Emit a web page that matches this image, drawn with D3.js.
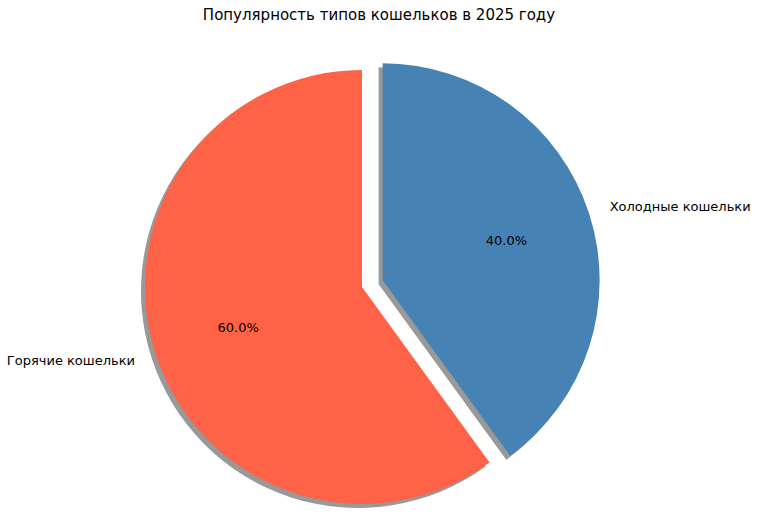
<!DOCTYPE html>
<html><head><meta charset="utf-8">
<script src="https://cdn.jsdelivr.net/npm/d3@7"></script>
<style>body{margin:0;background:#fff}text{font-family:"DejaVu Sans",sans-serif}</style>
</head><body>
<svg id="c" width="758" height="532"></svg>
<script>
var labels = ['Горячие кошельки', 'Холодные кошельки'];
var values = [60, 40];
var colors = ['#ff6347', '#4682b4'];
var explode = [0, 0.1];

var svg = d3.select('#c');
var cx = 362, cy = 287, r = 217;

svg.append('text').attr('x', 379).attr('y', 20).attr('text-anchor', 'middle')
    .attr('font-size', 15).text('Популярность типов кошельков в 2025 году');

var total = d3.sum(values);
var toAngle = d3.scaleLinear().domain([0, total]).range([0, 2 * Math.PI]);
// matplotlib: startangle 90, counterclockwise
var slices = [], acc = 0;
values.forEach(function(v, i) {
    var end = -toAngle(acc), start = -toAngle(acc + v);
    slices.push({i: i, startAngle: start, endAngle: end, mid: (start + end) / 2});
    acc += v;
});

var arc = d3.arc().innerRadius(0).outerRadius(r);
function off(d, k) { return [Math.sin(d.mid) * r * k, -Math.cos(d.mid) * r * k]; }

var shadows = svg.append('g').attr('transform', 'translate(' + (cx - 4) + ',' + (cy + 4) + ')');
slices.forEach(function(d) {
    var o = off(d, explode[d.i]);
    shadows.append('path').attr('d', arc(d)).attr('transform', 'translate(' + o + ')')
        .attr('fill', '#000').attr('opacity', 0.4);
});

var g = svg.append('g').attr('transform', 'translate(' + cx + ',' + cy + ')');
slices.forEach(function(d) {
    var o = off(d, explode[d.i]);
    var s = g.append('g').attr('transform', 'translate(' + o + ')');
    s.append('path').attr('d', arc(d)).attr('fill', colors[d.i]);
    var l = off(d, 1.1);
    s.append('text').attr('x', l[0]).attr('y', l[1]).attr('dy', '0.35em')
        .attr('text-anchor', l[0] < 0 ? 'end' : 'start').attr('font-size', 13).text(labels[d.i]);
    var p = off(d, 0.6);
    s.append('text').attr('x', p[0]).attr('y', p[1]).attr('dy', '0.35em')
        .attr('text-anchor', 'middle').attr('font-size', 13)
        .text((values[d.i] / total * 100).toFixed(1) + '%');
});
</script>
</body></html>
